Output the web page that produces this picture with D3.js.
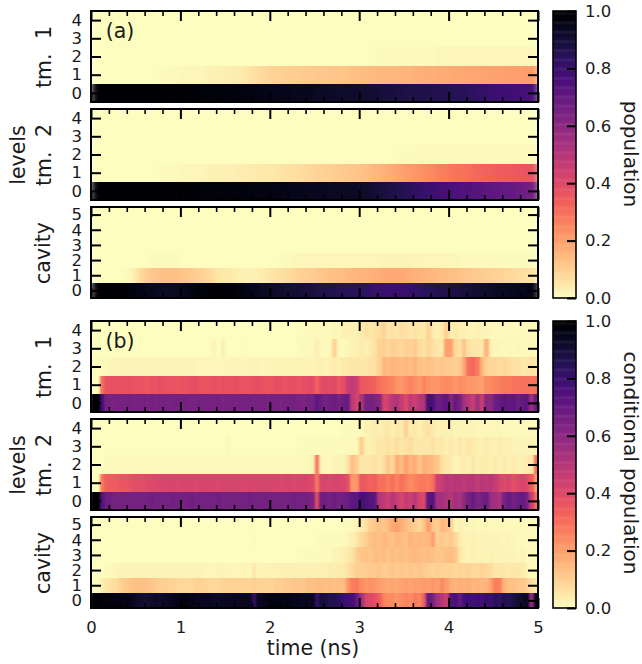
<!DOCTYPE html>
<html>
<head>
<meta charset="utf-8">
<script src="https://cdn.jsdelivr.net/npm/d3@7"></script>
<style>
  html, body { margin: 0; padding: 0; background: #fff; }
  svg { display: block; }
  text { font-family: "DejaVu Sans", sans-serif; fill: #1a1a1a; }
</style>
</head>
<body>
<svg id="chart" width="642" height="664"></svg>
<script>
// (a) population, one column per 0.125 ns, level 0 first
var a_tm1_0 = [1,1,1,1,1,1,.995,.99, .99,.985,.98,.98,.975,.97,.965,.96, .955,.95,.945,.94,.93,.925,.92,.915, .91,.90,.89,.88,.875,.87,.865,.86, .85,.84,.825,.81,.80,.79,.78,.77];
var a_tm1_1 = [0,0,0,0,0,0,.005,.01, .012,.015,.025,.03,.035,.04,.06,.08, .09,.10,.105,.11,.115,.12,.125,.13, .14,.145,.15,.155,.16,.165,.17,.175, .18,.185,.19,.195,.195,.2,.2,.21];
var a_tm1_2 = [0,0,0,0,0,0,0,0, 0,0,0,0,0,0,0,0, 0,0,0,0,0,0,0,0, 0,.006,.007,.008,.008,.008,.01,.012, .012,.012,.012,.012,.012,.012,.014,.014];
var a_tm1_3 = [0,0,0,0,0,0,0,0, 0,0,0,0,0,0,0,0, 0,0,0,0,0,0,0,0, 0,0,0,0,0,0,0,0, 0,0,0,0,0,0,0,0];
var a_tm1_4 = [0,0,0,0,0,0,0,0, 0,0,0,0,0,0,0,0, 0,0,0,0,0,0,0,0, 0,0,0,0,0,0,0,0, 0,0,0,0,0,0,0,0];

var a_tm2_0 = [1,1,1,1,1,1,.995,.99, .99,.985,.98,.98,.975,.975,.97,.965, .96,.955,.95,.945,.94,.935,.93,.93, .92,.90,.88,.86,.84,.82,.80,.78, .76,.75,.74,.72,.71,.70,.68,.66];
var a_tm2_1 = [0,0,0,0,0,0,.005,.01, .012,.015,.025,.03,.03,.035,.04,.045, .05,.06,.07,.08,.09,.10,.11,.12, .13,.15,.17,.19,.21,.23,.25,.27, .29,.30,.32,.33,.34,.35,.36,.37];
var a_tm2_2 = [0,0,0,0,0,0,0,0, 0,0,0,0,0,0,0,0, 0,0,0,0,0,0,0,0, 0,0,0,.006,.007,.008,.008,.008, .008,.008,.008,.008,.008,.008,.008,.008];
var a_tm2_3 = [0,0,0,0,0,0,0,0, 0,0,0,0,0,0,0,0, 0,0,0,0,0,0,0,0, 0,0,0,0,0,0,0,0, 0,0,0,0,0,0,0,0];
var a_tm2_4 = [0,0,0,0,0,0,0,0, 0,0,0,0,0,0,0,0, 0,0,0,0,0,0,0,0, 0,0,0,0,0,0,0,0, 0,0,0,0,0,0,0,0];

var a_cav_0 = [1,1,.995,.98,.96,.945,.93,.93, .95,.975,.985,.995,.985,.97,.95,.93, .92,.91,.90,.89,.87,.86,.85,.84, .83,.81,.80,.80,.81,.83,.85,.86, .88,.89,.91,.92,.93,.94,.95,.96];
var a_cav_1 = [0,0,0,.01,.08,.12,.13,.13, .12,.10,.08,.05,.04,.03,.03,.04, .06,.07,.09,.10,.12,.13,.14,.15, .16,.17,.18,.18,.17,.16,.15,.14, .13,.12,.11,.10,.09,.08,.07,.06];
var a_cav_2 = [0,0,0,0,0,.006,.006,.006, 0,0,0,0,0,0,0,0, 0,.008,.012,.012,.012,.012,.012,.012, .016,.018,.02,.02,.02,.016,.014,.014, .012,.01,.01,.008,.006,.006,.005,.005];
var a_cav_3 = [0,0,0,0,0,0,0,0, 0,0,0,0,0,0,0,0, 0,0,0,0,0,0,0,0, 0,0,0,0,0,0,0,0, 0,0,0,0,0,0,0,0];
var a_cav_4 = [0,0,0,0,0,0,0,0, 0,0,0,0,0,0,0,0, 0,0,0,0,0,0,0,0, 0,0,0,0,0,0,0,0, 0,0,0,0,0,0,0,0];
var a_cav_5 = [0,0,0,0,0,0,0,0, 0,0,0,0,0,0,0,0, 0,0,0,0,0,0,0,0, 0,0,0,0,0,0,0,0, 0,0,0,0,0,0,0,0];

// (b) conditional population, one column per 0.05 ns, level 0 first
var b_tm1_0 = [1,1,.78,.66,.65,.65,.66,.66,.66,.65,.66,.66,.65,.66,.65,.66,.66,.65,.66,.66,
  .66,.66,.65,.65,.66,.66,.66,.65,.66,.64,.66,.66,.65,.66,.66,.66,.65,.66,.66,.65,
  .66,.66,.65,.66,.66,.66,.65,.64,.66,.66,.72,.68,.66,.67,.68,.66,.68,.69,.48,.42,
  .52,.66,.66,.64,.62,.42,.44,.5,.52,.46,.4,.48,.44,.5,.52,.78,.76,.68,.7,.72,
  .62,.7,.66,.55,.5,.45,.55,.45,.62,.6,.68,.7,.72,.7,.72,.68,.7,.72,.56,.7];
var b_tm1_1 = [0,0,.30,.37,.38,.37,.37,.37,.38,.37,.37,.37,.36,.37,.37,.38,.37,.37,.37,.36,
  .37,.37,.38,.38,.37,.37,.37,.38,.37,.38,.37,.37,.38,.37,.37,.37,.38,.38,.37,.37,
  .37,.38,.38,.37,.38,.38,.37,.38,.39,.39,.33,.39,.40,.39,.40,.36,.39,.46,.48,.44,
  .36,.35,.34,.33,.30,.28,.27,.26,.23,.22,.24,.26,.24,.22,.26,.23,.22,.22,.24,.25,
  .24,.22,.24,.23,.22,.22,.21,.2,.24,.25,.26,.27,.28,.28,.29,.29,.3,.3,.29,.3];
var b_tm1_2 = [0,0,.01,.01,.015,.02,.02,.02,.02,.02,.02,.02,.02,.02,.02,.02,.02,.02,.02,.02,
  .02,.02,.02,.02,.015,.015,.015,.015,.015,.015,.015,.02,.015,.015,.015,.02,.025,.02,.015,.015,
  .02,.02,.02,.025,.02,.02,.02,.025,.02,.02,.03,.03,.02,.03,.04,.03,.04,.04,.05,.05,
  .05,.05,.06,.06,.09,.15,.14,.16,.15,.14,.15,.14,.16,.13,.12,.13,.12,.11,.12,.11,
  .11,.1,.11,.18,.3,.32,.28,.15,.09,.08,.08,.07,.08,.07,.06,.06,.05,.05,.06,.05];
var b_tm1_3 = [0,0,0,0,0,0,0,0,0,0,0,0,0,0,0,0,0,0,0,0,
  0,0,0,0,0,0,0,.025,0,.03,0,0,0,0,.006,0,0,0,0,0,
  0,0,0,0,0,0,.005,.008,.008,.008,.035,.008,.008,.01,.09,.008,.008,.015,.025,.03,
  .04,.03,.04,.06,.09,.1,.08,.1,.09,.08,.1,.09,.11,.07,.06,.08,.06,.05,.04,.2,
  .2,.08,.06,.12,.06,.05,.05,.05,.16,.02,.015,.015,.01,.015,.01,.015,.01,.01,.015,.01];
var b_tm1_4 = [0,0,0,0,0,0,0,0,0,0,0,0,0,0,0,0,0,0,0,0,
  0,0,0,0,0,0,0,0,0,0,0,0,0,0,0,0,0,0,0,0,
  0,0,0,0,0,0,.005,.005,.008,.008,.008,.008,.008,.008,.012,.012,.03,.03,.03,.03,
  .04,.06,.05,.06,.07,.1,.05,.06,.05,.07,.06,.05,.06,.05,.04,.09,.04,.03,.04,.1,
  .03,.04,.03,.03,.02,.02,.03,.02,.02,.01,.01,.01,.01,.01,.01,.01,.01,.01,.01,.01];

var b_tm2_0 = [1,1,.75,.68,.67,.66,.66,.66,.66,.66,.66,.66,.66,.67,.66,.66,.66,.66,.67,.66,
  .66,.66,.67,.66,.66,.66,.66,.66,.67,.66,.66,.66,.66,.66,.66,.67,.66,.66,.66,.66,
  .66,.66,.66,.66,.66,.67,.66,.66,.66,.64,.38,.68,.67,.66,.68,.66,.67,.68,.72,.72,
  .78,.76,.74,.72,.5,.48,.44,.5,.46,.42,.48,.44,.5,.42,.4,.72,.74,.55,.55,.52,
  .5,.55,.52,.6,.66,.7,.64,.66,.68,.56,.55,.52,.66,.7,.66,.68,.7,.66,.45,.3];
var b_tm2_1 = [0,0,.28,.34,.35,.35,.36,.36,.37,.38,.39,.39,.4,.4,.41,.41,.41,.42,.42,.41,
  .42,.42,.42,.41,.42,.42,.42,.42,.41,.42,.42,.42,.42,.42,.41,.42,.42,.42,.42,.42,
  .42,.42,.41,.42,.42,.41,.42,.42,.41,.4,.28,.42,.42,.41,.42,.42,.41,.38,.22,.22,
  .36,.35,.33,.34,.3,.3,.27,.3,.26,.3,.27,.24,.26,.28,.28,.27,.3,.44,.46,.5,
  .48,.5,.5,.48,.5,.5,.47,.5,.48,.5,.46,.42,.4,.42,.38,.4,.42,.4,.35,.2];
var b_tm2_2 = [0,0,0,.005,.008,.008,.008,.008,.008,.008,.008,.008,.008,.008,.008,.008,.008,.008,.008,.008,
  .008,.008,.008,.008,.008,.008,.008,.008,.008,.008,.008,.008,.008,.008,.008,.008,.008,.008,.008,.008,
  .008,.008,.008,.008,.008,.008,.008,.008,.008,.02,.29,.02,.01,.01,.02,.02,.02,.06,.13,.1,
  .05,.05,.05,.06,.05,.07,.12,.08,.18,.14,.2,.16,.18,.12,.17,.16,.14,.12,.06,.05,
  .04,.02,.03,.04,.03,.05,.03,.04,.04,.03,.04,.03,.04,.03,.04,.03,.03,.04,.05,.3];
var b_tm2_3 = [0,0,0,0,0,0,0,0,0,0,0,0,0,0,0,0,0,0,0,0,
  0,0,0,0,0,0,0,0,0,0,.012,0,0,0,0,0,0,0,0,0,
  0,0,0,0,0,0,.005,.005,.005,.005,.005,.005,.005,.005,.005,.005,.008,.01,.01,.01,
  .1,.03,.03,.04,.05,.05,.06,.05,.07,.05,.06,.07,.05,.05,.05,.05,.06,.04,.05,.03,
  .05,.03,.05,.03,.05,.04,.03,.03,.04,.03,.03,.04,.03,.03,.02,.02,.02,.02,.02,.02];
var b_tm2_4 = [0,0,0,0,0,0,0,0,0,0,0,0,0,0,0,0,0,0,0,0,
  0,0,0,0,0,0,0,0,0,0,0,0,0,0,0,0,0,0,0,0,
  0,0,0,0,0,0,0,0,0,0,0,0,0,0,0,0,.005,.005,.005,.005,
  .01,.03,.03,.04,.03,.04,.05,.03,.05,.04,.1,.04,.05,.03,.05,.06,.04,.03,.03,.03,
  .03,.02,.02,.02,.02,.02,.015,.015,.015,.015,.015,.015,.01,.01,.01,.01,.01,.01,.01,.01];

var b_cav_0 = [1,1,.98,.98,.97,.97,.97,.96,.96,.94,.92,.91,.91,.92,.93,.92,.93,.94,.95,.96,
  .97,.97,.96,.95,.94,.94,.94,.93,.93,.93,.94,.94,.94,.94,.94,.94,.82,.94,.95,.96,
  .97,.97,.97,.96,.96,.95,.95,.94,.94,.94,.82,.9,.88,.86,.86,.84,.8,.79,.78,.7,
  .55,.42,.4,.38,.34,.26,.24,.24,.22,.24,.26,.24,.28,.26,.34,.7,.66,.55,.5,.45,
  .75,.76,.7,.78,.8,.78,.8,.78,.82,.8,.84,.82,.86,.85,.88,.9,.92,.94,.6,.96];
var b_cav_1 = [0,0,.03,.05,.06,.07,.09,.11,.12,.13,.13,.13,.13,.12,.11,.1,.1,.09,.09,.08,
  .08,.08,.08,.09,.09,.09,.08,.08,.08,.09,.09,.09,.09,.09,.09,.09,.1,.09,.09,.09,
  .09,.1,.1,.11,.11,.12,.12,.12,.13,.13,.14,.14,.13,.14,.13,.14,.14,.22,.27,.28,
  .24,.22,.23,.22,.2,.19,.18,.19,.18,.19,.2,.19,.2,.2,.21,.2,.22,.2,.25,.21,
  .17,.16,.17,.16,.17,.15,.16,.15,.16,.2,.27,.26,.16,.13,.13,.12,.12,.1,.07,.05];
var b_cav_2 = [0,0,0,.005,.01,.015,.02,.02,.02,.02,.02,.02,.02,.02,.02,.02,.02,.02,.02,.02,
  .02,.02,.02,.02,.02,.015,.015,.015,.02,.02,.015,.015,.015,.015,.02,.015,.05,.02,.02,.025,
  .025,.025,.03,.03,.03,.03,.03,.03,.03,.03,.03,.03,.03,.04,.035,.04,.04,.06,.08,.1,
  .1,.1,.11,.11,.12,.1,.11,.12,.11,.12,.11,.12,.11,.12,.11,.1,.09,.1,.09,.09,
  .09,.08,.09,.08,.09,.08,.08,.09,.08,.07,.05,.05,.05,.04,.05,.05,.04,.02,.01,.01];
var b_cav_3 = [0,0,0,0,0,0,0,0,0,0,0,0,0,0,0,0,0,0,0,0,
  0,0,0,0,0,0,0,0,0,0,0,0,0,0,0,0,0,0,0,0,
  0,0,0,0,0,0,.005,.005,.005,.005,.005,.005,.01,.01,.02,.025,.03,.04,.06,.1,
  .12,.13,.12,.14,.13,.14,.12,.14,.13,.14,.13,.14,.15,.14,.13,.14,.13,.12,.12,.13,
  .14,.12,.05,.03,.02,.03,.02,.02,.02,.03,.02,.02,.02,.02,.02,.01,.02,.01,.01,.01];
var b_cav_4 = [0,0,0,0,0,0,0,0,0,0,0,0,0,0,0,0,0,0,0,0,
  0,0,0,0,0,0,0,0,0,0,0,0,0,0,0,0,.006,0,0,0,
  0,0,0,0,0,0,0,0,0,0,.005,.005,.005,.005,.005,.005,.01,.02,.03,.05,
  .08,.1,.13,.14,.13,.15,.14,.13,.15,.14,.13,.16,.14,.15,.14,.15,.2,.1,.12,.1,
  .12,.08,.04,.02,.02,.03,.02,.02,.02,.02,.02,.02,.015,.02,.015,.01,.01,.01,.01,.01];
var b_cav_5 = [0,0,0,0,0,0,0,0,0,0,0,0,0,0,0,0,0,0,0,0,
  0,0,0,0,0,0,0,0,0,0,0,0,0,0,0,0,0,0,0,0,
  0,0,0,0,0,0,0,0,0,0,0,0,0,0,0,0,.005,.005,.01,.02,
  .04,.06,.1,.12,.13,.12,.14,.18,.2,.17,.14,.12,.1,.08,.12,.2,.12,.1,.15,.14,
  .1,.02,.03,.02,.015,.015,.01,.015,.01,.01,.01,.01,.01,.01,.01,.01,.01,.01,.01,.01];

var xTicks = [0,1,2,3,4,5];
var xMinorTicks = [.2,.4,.6,.8,1.2,1.4,1.6,1.8,2.2,2.4,2.6,2.8,3.2,3.4,3.6,3.8,4.2,4.4,4.6,4.8];
var cbarTicks = [0,.2,.4,.6,.8,1];

var left = 91, right = 538;
var panelTops = [11, 109, 207, 321, 419, 517];
var panelHeight = 91;
var tickFont = '16.5px';
var labelFont = 20.5;

var svg = d3.select('#chart');
var defs = svg.append('defs');

var x = d3.scaleLinear().domain([0, 5]).range([left, right]);
var color = d3.scaleSequential(function (t) { return d3.interpolateMagma(1 - t); }).domain([0, 1]);

// smooth along time only, rows keep a hard edge like imshow does
function blurFilter(id, sd) {
    var f = defs.append('filter')
        .attr('id', id)
        .attr('filterUnits', 'userSpaceOnUse')
        .attr('color-interpolation-filters', 'sRGB')
        .attr('x', 0).attr('y', 0)
        .attr('width', 642).attr('height', 664);
    f.append('feGaussianBlur')
        .attr('in', 'SourceGraphic')
        .attr('stdDeviation', sd + ' 0')
        .attr('edgeMode', 'duplicate');
}
blurFilter('smoothA', 3.5);
blurFilter('smoothB', 1.1);

function drawPanel(top, rows, dt, filterId, withLabels) {
    var n = rows.length;
    var y = d3.scaleLinear().domain([-.5, n - .5]).range([top + panelHeight, top]);
    var g = svg.append('g');
    var clipId = 'clip' + top;
    defs.append('clipPath').attr('id', clipId).append('rect')
        .attr('x', left).attr('y', top)
        .attr('width', right - left).attr('height', panelHeight);

    var body = g.append('g').attr('clip-path', 'url(#' + clipId + ')')
        .append('g').attr('filter', 'url(#' + filterId + ')');
    rows.forEach(function (row, level) {
        body.selectAll('.l' + level)
            .data(row)
            .enter()
            .append('rect')
            .attr('class', 'l' + level)
            .attr('x', function (d, i) { return x(i * dt); })
            .attr('width', x(dt) - x(0) + .5)
            .attr('y', y(level + .5))
            .attr('height', y(level - .5) - y(level + .5))
            .style('fill', function (d) { return color(d); })
            .attr('shape-rendering', 'crispEdges');
    });

    var axisStyle = function (sel, w) {
        sel.select('.domain').remove();
        sel.selectAll('line').attr('stroke', '#000').attr('stroke-width', w);
    };

    [[d3.axisTop, top, 1], [d3.axisBottom, top + panelHeight, -1]].forEach(function (p) {
        g.append('g').attr('transform', 'translate(0,' + p[1] + ')')
            .call(p[0](x).tickValues(xMinorTicks).tickSize(-5).tickFormat(''))
            .call(axisStyle, 1.6);
        var major = g.append('g').attr('transform', 'translate(0,' + p[1] + ')')
            .call(p[0](x).tickValues(xTicks).tickSize(-10).tickPadding(8)
                .tickFormat(withLabels && p[2] < 0 ? d3.format('d') : ''))
            .call(axisStyle, 2);
        major.selectAll('text').style('font-size', tickFont).attr('y', 13).attr('dy', '.71em')
            .style('font-family', '"DejaVu Sans", sans-serif').attr('fill', '#1a1a1a');
    });

    var levels = d3.range(n);
    var yl = g.append('g').attr('transform', 'translate(' + left + ',0)')
        .call(d3.axisLeft(y).tickValues(levels).tickSize(-10).tickPadding(9).tickFormat(d3.format('d')))
        .call(axisStyle, 2);
    yl.selectAll('text').style('font-size', tickFont)
        .style('font-family', '"DejaVu Sans", sans-serif').attr('fill', '#1a1a1a');
    g.append('g').attr('transform', 'translate(' + right + ',0)')
        .call(d3.axisRight(y).tickValues(levels).tickSize(-10).tickFormat(''))
        .call(axisStyle, 2);

    g.append('rect')
        .attr('x', left).attr('y', top)
        .attr('width', right - left).attr('height', panelHeight)
        .attr('fill', 'none').attr('stroke', '#000').attr('stroke-width', 2);
}

drawPanel(panelTops[0], [a_tm1_0, a_tm1_1, a_tm1_2, a_tm1_3, a_tm1_4], .125, 'smoothA', false);
drawPanel(panelTops[1], [a_tm2_0, a_tm2_1, a_tm2_2, a_tm2_3, a_tm2_4], .125, 'smoothA', false);
drawPanel(panelTops[2], [a_cav_0, a_cav_1, a_cav_2, a_cav_3, a_cav_4, a_cav_5], .125, 'smoothA', false);
drawPanel(panelTops[3], [b_tm1_0, b_tm1_1, b_tm1_2, b_tm1_3, b_tm1_4], .05, 'smoothB', false);
drawPanel(panelTops[4], [b_tm2_0, b_tm2_1, b_tm2_2, b_tm2_3, b_tm2_4], .05, 'smoothB', false);
drawPanel(panelTops[5], [b_cav_0, b_cav_1, b_cav_2, b_cav_3, b_cav_4, b_cav_5], .05, 'smoothB', true);

function drawColorbar(top, bottom) {
    var cx = 553, cw = 23;
    var c = d3.scaleLinear().domain([0, 1]).range([bottom, top]);
    var g = svg.append('g');
    g.selectAll('rect.step')
        .data(d3.range(0, 256))
        .enter()
        .append('rect')
        .attr('class', 'step')
        .attr('x', cx).attr('width', cw)
        .attr('y', function (d) { return c((d + 1) / 256); })
        .attr('height', (bottom - top) / 256 + .5)
        .style('fill', function (d) { return color((d + .5) / 256); });
    var ax = g.append('g').attr('transform', 'translate(' + (cx + cw) + ',0)')
        .call(d3.axisRight(c).tickValues(cbarTicks).tickSize(-9).tickPadding(9).tickFormat(d3.format('.1f')));
    ax.select('.domain').remove();
    ax.selectAll('line').attr('stroke', '#000').attr('stroke-width', 2);
    ax.selectAll('text').style('font-size', tickFont)
        .style('font-family', '"DejaVu Sans", sans-serif').attr('fill', '#1a1a1a');
    g.append('rect')
        .attr('x', cx).attr('y', top).attr('width', cw).attr('height', bottom - top)
        .attr('fill', 'none').attr('stroke', '#000').attr('stroke-width', 1.6);
}
drawColorbar(11, 298);
drawColorbar(321, 608);

function label(txt, px, py, rot, gap, size) {
    svg.append('text')
        .attr('transform', 'translate(' + px + ',' + py + ') rotate(' + rot + ')')
        .attr('text-anchor', 'middle')
        .style('font-size', (size || labelFont) + 'px')
        .style('word-spacing', gap ? gap + 'px' : null)
        .text(txt);
}

label('tm. 1', 51, 57, -90, 8);
label('tm. 2', 51, 155, -90, 8);
label('cavity', 50, 253, -90);
label('levels', 25, 155, -90);
label('tm. 1', 51, 367, -90, 8);
label('tm. 2', 51, 465, -90, 8);
label('cavity', 50, 563, -90);
label('levels', 25, 465, -90);
label('population', 624, 154, 90, 0, 20);
label('conditional population', 624, 463, 90, 0, 20);
label('time (ns)', 313, 655, 0);
label('(a)', 120, 38, 0);
label('(b)', 120, 348, 0);
</script>
</body>
</html>
